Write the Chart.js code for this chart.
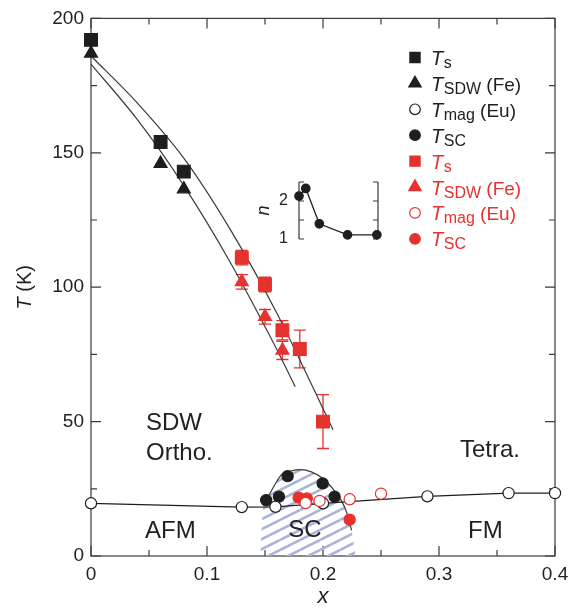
<!DOCTYPE html>
<html lang="en">
<head>
<meta charset="UTF-8">
<title>Phase diagram</title>
<style>
  body { margin: 0; background: #fff; }
  .wrap { position: relative; width: 578px; height: 611px; }
  #mainCanvas { position: absolute; left: 0; top: 0; }
  #insetCanvas { position: absolute; left: 250px; top: 170px; }
</style>
</head>
<body>
<div class="wrap">
  <canvas id="mainCanvas" width="578" height="611"></canvas>
  <canvas id="insetCanvas" width="140" height="80"></canvas>
</div>

<script src="https://cdn.jsdelivr.net/npm/chart.js"></script>
<script>
    // ---- data ----
    const tsBlackX = [0, 0.06, 0.08];
    const tsBlackT = [192, 154, 143];
    const tsdwBlackX = [0, 0.06, 0.08];
    const tsdwBlackT = [187, 146, 136.5];
    const tmagBlackX = [0, 0.13, 0.159, 0.2, 0.29, 0.36, 0.4];
    const tmagBlackT = [19.6, 18.2, 18.3, 19.6, 22.2, 23.4, 23.4];
    const tscBlackX = [0.151, 0.162, 0.1695, 0.1997, 0.21];
    const tscBlackT = [20.8, 22.1, 29.7, 27, 22.1];

    const tsRedX = [0.13, 0.15, 0.165, 0.18, 0.2];
    const tsRedT = [111, 101, 84, 77, 50];
    const tsRedErr = [2.7, 2.7, 3.6, 7, 10];
    const tsdwRedX = [0.13, 0.15, 0.165];
    const tsdwRedT = [102, 89, 76.5];
    const tsdwRedErr = [2.7, 2.7, 3.4];
    const tmagRedX = [0.185, 0.197, 0.223, 0.25];
    const tmagRedT = [19.7, 20.5, 21.1, 23.2];
    const tscRedX = [0.179, 0.186, 0.223];
    const tscRedT = [21.7, 21.4, 13.5];

    // guide curves drawn in the figure
    const tsCurveX = [0, 0.04, 0.08, 0.12, 0.16, 0.2086];
    const tsCurveT = [186, 168.5, 148, 121.5, 90.5, 47];
    const tsdwCurveX = [0, 0.04, 0.08, 0.12, 0.16, 0.176];
    const tsdwCurveT = [183, 162.3, 137.8, 109.3, 77, 63];
    const domeX = [0.1486, 0.1586, 0.1644, 0.173, 0.18, 0.19, 0.2, 0.21, 0.216, 0.2204, 0.2247];
    const domeT = [18.7, 26.6, 30.3, 31.7, 32.1, 31.3, 28.8, 24.2, 20.5, 16.2, 9.5];

    // inset: exponent n
    const insetX = [0.13, 0.136, 0.148, 0.173, 0.199];
    const insetN = [2.13, 2.33, 1.40, 1.11, 1.11];
    const insetTickVals = [1, 1.5, 2, 2.5];
    const insetTickLabels = ['1', '', '2', ''];

    const legendSubs = ['s', 'SDW', 'mag', 'SC'];
    const legendExtras = ['', ' (Fe)', ' (Eu)', ''];

    const FONT = "'Liberation Sans', Arial, Helvetica, sans-serif";
    const BLACK = '#1e1e1e';
    const RED = '#e5322f';
    const AXIS = '#3a3a3a';

    function pts(xs, ys) {
        return xs.map((x, i) => ({x: x, y: ys[i]}));
    }

    // diagonal hatch for the SC dome
    function makeHatch() {
        const c = document.createElement('canvas');
        c.width = 20; c.height = 10;
        const g = c.getContext('2d');
        g.strokeStyle = '#abb3da';
        g.lineWidth = 2.6;
        for (let k = -1; k <= 1; k++) {
            g.beginPath();
            g.moveTo(0, 10 + 10 * k);
            g.lineTo(20, 10 * k);
            g.stroke();
        }
        return g.createPattern(c, 'repeat');
    }

    function drawMarker(ctx, style, x, y, r, fill, stroke) {
        ctx.beginPath();
        if (style === 'rect') {
            const s = r * Math.SQRT1_2;
            ctx.rect(x - s, y - s, 2 * s, 2 * s);
        } else if (style === 'triangle') {
            const w = r * Math.sin(2 * Math.PI / 3);
            ctx.moveTo(x, y - r);
            ctx.lineTo(x + w, y + r / 2);
            ctx.lineTo(x - w, y + r / 2);
            ctx.closePath();
        } else {
            ctx.arc(x, y, r, 0, Math.PI * 2);
        }
        ctx.fillStyle = fill;
        ctx.fill();
        ctx.lineWidth = 1.2;
        ctx.strokeStyle = stroke;
        ctx.stroke();
    }

    function fmtX(v) {
        const t = v * 10;
        return Math.abs(t - Math.round(t)) < 1e-6 ? String(Math.round(t) / 10) : '';
    }

    // frame with inward ticks, error bars, labels, legend
    const framePlugin = {
        id: 'frame',
        beforeDatasetsDraw(chart) {
            const {ctx, chartArea: a, scales: {x, y}} = chart;
            ctx.save();
            ctx.strokeStyle = AXIS;
            ctx.lineWidth = 1.2;
            ctx.strokeRect(a.left, a.top, a.right - a.left, a.bottom - a.top);
            ctx.beginPath();
            x.ticks.forEach(t => {
                const px = x.getPixelForValue(t.value);
                const l = fmtX(t.value) !== '' ? 10 : 6;
                ctx.moveTo(px, a.bottom); ctx.lineTo(px, a.bottom - l);
                ctx.moveTo(px, a.top); ctx.lineTo(px, a.top + l);
            });
            y.ticks.forEach(t => {
                const py = y.getPixelForValue(t.value);
                const l = t.value % 50 === 0 ? 10 : 6;
                ctx.moveTo(a.left, py); ctx.lineTo(a.left + l, py);
                ctx.moveTo(a.right, py); ctx.lineTo(a.right - l, py);
            });
            ctx.stroke();

            // error bars
            ctx.lineWidth = 1.3;
            chart.data.datasets.forEach((d, di) => {
                if (!d.errors) return;
                const meta = chart.getDatasetMeta(di);
                ctx.strokeStyle = d.borderColor;
                ctx.beginPath();
                d.data.forEach((p, j) => {
                    const px = meta.data[j].x;
                    const top = y.getPixelForValue(p.y + d.errors[j]);
                    const bot = y.getPixelForValue(p.y - d.errors[j]);
                    ctx.moveTo(px, top); ctx.lineTo(px, bot);
                    ctx.moveTo(px - 6, top); ctx.lineTo(px + 6, top);
                    ctx.moveTo(px - 6, bot); ctx.lineTo(px + 6, bot);
                });
                ctx.stroke();
            });
            ctx.restore();
        },
        afterDatasetsDraw(chart) {
            const {ctx, scales: {x, y}} = chart;
            ctx.save();
            ctx.fillStyle = '#222';
            ctx.font = '24px ' + FONT;
            ctx.textBaseline = 'alphabetic';
            const put = (txt, vx, vy) => ctx.fillText(txt, x.getPixelForValue(vx), y.getPixelForValue(vy));
            put('SDW', 0.0474, 46.9);
            put('Ortho.', 0.0474, 35.9);
            put('Tetra.', 0.318, 37);
            put('AFM', 0.0466, 6.6);
            put('SC', 0.170, 7);
            put('FM', 0.325, 6.6);
            ctx.restore();
        },
        afterDraw(chart) {
            const {ctx, chartArea: a} = chart;
            ctx.save();
            // y title: T (K)
            ctx.translate(25, (a.top + a.bottom) / 2);
            ctx.rotate(-Math.PI / 2);
            ctx.fillStyle = '#222';
            ctx.textBaseline = 'middle';
            ctx.font = 'italic 20px ' + FONT;
            const w1 = ctx.measureText('T').width;
            ctx.font = '20px ' + FONT;
            const w2 = ctx.measureText(' (K)').width;
            ctx.font = 'italic 20px ' + FONT;
            ctx.fillText('T', -(w1 + w2) / 2, 0);
            ctx.font = '20px ' + FONT;
            ctx.fillText(' (K)', -(w1 + w2) / 2 + w1, 0);
            ctx.restore();

            // x title
            ctx.save();
            ctx.fillStyle = '#222';
            ctx.font = 'italic 22px ' + FONT;
            ctx.textAlign = 'center';
            ctx.fillText('x', (a.left + a.right) / 2, 603);
            ctx.restore();

            // legend
            ctx.save();
            chart.data.datasets.forEach(d => {
                if (d.legendRow === undefined) return;
                const ly = 57.5 + d.legendRow * 25.9;
                const r = d.pointStyle === 'circle' ? 5.3 : 7.2;
                drawMarker(ctx, d.pointStyle, 415, ly, r, d.backgroundColor, d.borderColor);
                const k = d.legendRow % 4;
                ctx.fillStyle = d.legendRow < 4 ? '#1e1e1e' : RED;
                ctx.textBaseline = 'alphabetic';
                let tx = 431;
                ctx.font = 'italic 20px ' + FONT;
                ctx.fillText('T', tx, ly + 7.5);
                tx += ctx.measureText('T').width + 0.5;
                ctx.font = '16px ' + FONT;
                ctx.fillText(legendSubs[k], tx, ly + 10.5);
                tx += ctx.measureText(legendSubs[k]).width;
                if (legendExtras[k]) {
                    ctx.font = '19px ' + FONT;
                    ctx.fillText(legendExtras[k], tx, ly + 7.5);
                }
            });
            ctx.restore();
        }
    };

    const markerBase = {borderWidth: 1.2, pointHoverRadius: 0, clip: false};

    const mainChart = new Chart(document.getElementById('mainCanvas'), {
        type: 'scatter',
        data: {
            datasets: [
                Object.assign({data: pts(tmagRedX, tmagRedT), pointStyle: 'circle', pointRadius: 5.6,
                    backgroundColor: '#fff', borderColor: RED, order: 0, legendRow: 6}, markerBase),
                Object.assign({data: pts(tscRedX, tscRedT), pointStyle: 'circle', pointRadius: 5.6,
                    backgroundColor: RED, borderColor: RED, order: 1, legendRow: 7}, markerBase),
                Object.assign({data: pts(tmagBlackX, tmagBlackT), pointStyle: 'circle', pointRadius: 5.6,
                    backgroundColor: '#fff', borderColor: BLACK, showLine: true,
                    order: 2, legendRow: 2}, markerBase),
                Object.assign({data: pts(tscBlackX, tscBlackT), pointStyle: 'circle', pointRadius: 5.6,
                    backgroundColor: BLACK, borderColor: BLACK, order: 3, legendRow: 3}, markerBase),
                Object.assign({data: pts(tsRedX, tsRedT), errors: tsRedErr, pointStyle: 'rect', pointRadius: 9,
                    backgroundColor: RED, borderColor: RED, order: 4, legendRow: 4}, markerBase),
                Object.assign({data: pts(tsdwRedX, tsdwRedT), errors: tsdwRedErr, pointStyle: 'triangle', pointRadius: 7.5,
                    backgroundColor: RED, borderColor: RED, order: 5, legendRow: 5}, markerBase),
                Object.assign({data: pts(tsBlackX, tsBlackT), pointStyle: 'rect', pointRadius: 9,
                    backgroundColor: BLACK, borderColor: BLACK, order: 6, legendRow: 0}, markerBase),
                Object.assign({data: pts(tsdwBlackX, tsdwBlackT), pointStyle: 'triangle', pointRadius: 7.5,
                    backgroundColor: BLACK, borderColor: BLACK, order: 7, legendRow: 1}, markerBase),
                {data: pts(tsCurveX, tsCurveT), showLine: true, pointRadius: 0, borderColor: AXIS, borderWidth: 1.2,
                    cubicInterpolationMode: 'monotone', order: 8, clip: false},
                {data: pts(tsdwCurveX, tsdwCurveT), showLine: true, pointRadius: 0, borderColor: AXIS, borderWidth: 1.2,
                    cubicInterpolationMode: 'monotone', order: 8, clip: false},
                {data: pts(domeX, domeT), showLine: true, pointRadius: 0, borderColor: AXIS, borderWidth: 1.2,
                    cubicInterpolationMode: 'monotone', order: 9},
                {data: pts([0.146].concat(domeX, [0.228]), [0].concat(domeT, [0])), showLine: true, pointRadius: 0,
                    borderWidth: 0, borderColor: 'rgba(0,0,0,0)', backgroundColor: makeHatch(), fill: 'origin',
                    cubicInterpolationMode: 'monotone', order: 10}
            ]
        },
        options: {
            responsive: false,
            animation: false,
            events: [],
            layout: {padding: {top: 10, right: 23, left: 0, bottom: 0}},
            plugins: {legend: {display: false}, tooltip: {enabled: false}},
            scales: {
                x: {
                    type: 'linear', min: 0, max: 0.4,
                    grid: {display: false, drawTicks: false},
                    border: {display: false},
                    ticks: {stepSize: 0.05, autoSkip: false, maxRotation: 0, padding: 7, color: '#222',
                        font: {family: FONT, size: 19}, callback: v => fmtX(v)},
                    afterFit(s) { s.height = 55; }
                },
                y: {
                    min: 0, max: 200,
                    grid: {display: false, drawTicks: false},
                    border: {display: false},
                    ticks: {stepSize: 25, autoSkip: false, padding: 7, color: '#222',
                        font: {family: FONT, size: 19}, callback: v => (v % 50 === 0 ? String(v) : '')},
                    afterFit(s) { s.width = 91; }
                }
            }
        },
        plugins: [framePlugin]
    });

    // inset brackets, ticks and labels
    const insetPlugin = {
        id: 'insetFrame',
        beforeDatasetsDraw(chart) {
            const {ctx, chartArea: a, scales: {y}} = chart;
            ctx.save();
            ctx.strokeStyle = AXIS;
            ctx.lineWidth = 1.2;
            ctx.beginPath();
            ctx.moveTo(a.left, a.top); ctx.lineTo(a.left, a.bottom);
            ctx.moveTo(a.right, a.top); ctx.lineTo(a.right, a.bottom);
            insetTickVals.forEach(v => {
                const py = y.getPixelForValue(v);
                ctx.moveTo(a.left, py); ctx.lineTo(a.left + 5, py);
                ctx.moveTo(a.right, py); ctx.lineTo(a.right - 5, py);
            });
            ctx.stroke();
            ctx.fillStyle = '#222';
            ctx.font = '16px ' + FONT;
            ctx.textAlign = 'right';
            ctx.textBaseline = 'middle';
            insetTickVals.forEach((v, i) => {
                if (insetTickLabels[i]) ctx.fillText(insetTickLabels[i], a.left - 11, y.getPixelForValue(v));
            });
            ctx.translate(14, (a.top + a.bottom) / 2);
            ctx.rotate(-Math.PI / 2);
            ctx.textAlign = 'center';
            ctx.font = 'italic 18px ' + FONT;
            ctx.fillText('n', 0, 0);
            ctx.restore();
        }
    };

    const insetChart = new Chart(document.getElementById('insetCanvas'), {
        type: 'scatter',
        data: {
            datasets: [{
                data: pts(insetX, insetN), showLine: true, borderColor: BLACK, borderWidth: 1.3,
                pointRadius: 4.2, pointBackgroundColor: BLACK, pointBorderColor: BLACK, clip: false
            }]
        },
        options: {
            responsive: false,
            animation: false,
            events: [],
            layout: {padding: {left: 49, right: 12, top: 12, bottom: 11}},
            plugins: {legend: {display: false}, tooltip: {enabled: false}},
            scales: {
                x: {type: 'linear', min: 0.13, max: 0.2, display: false},
                y: {min: 1, max: 2.5, display: false}
            }
        },
        plugins: [insetPlugin]
    });
</script>
</body>
</html>
